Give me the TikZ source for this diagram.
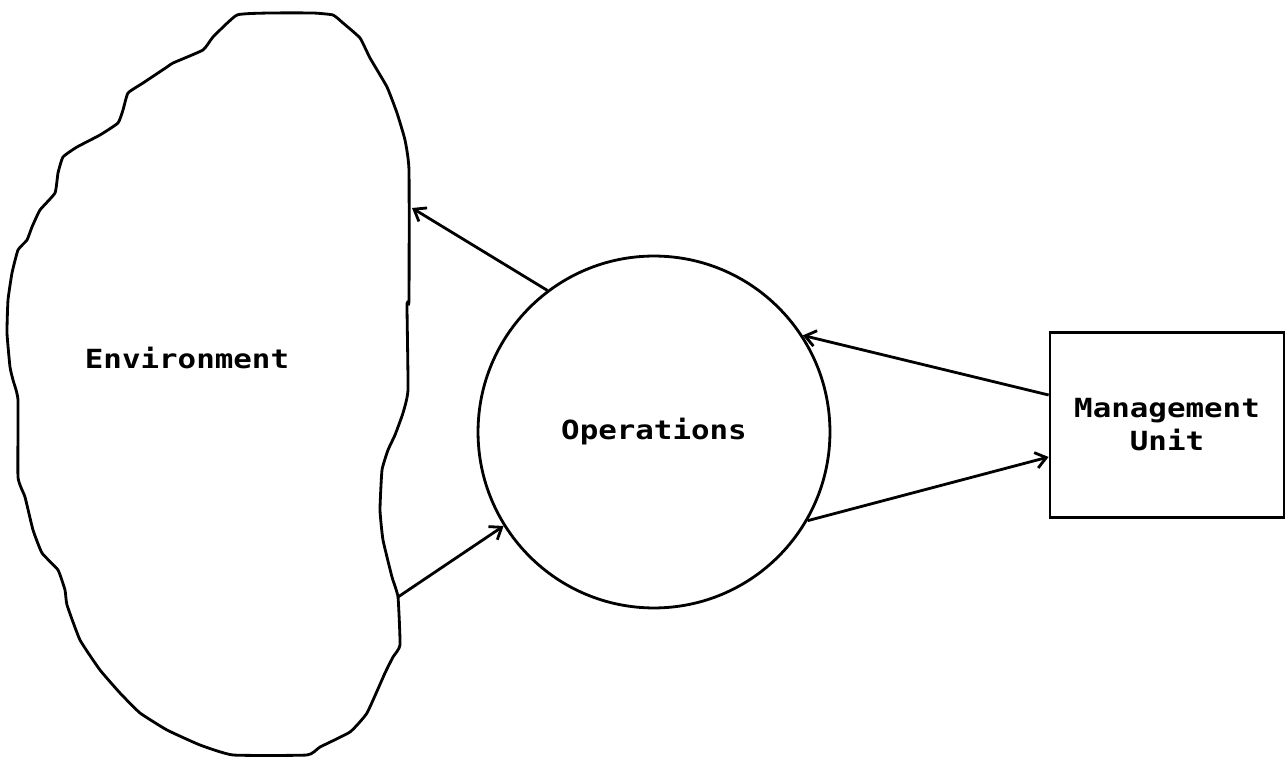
\documentclass[tikz,border=0pt]{standalone}
\usepackage{fontspec}
\newfontfamily\plotfont[FakeStretch=1.17]{DejaVu Sans Mono}
\usepackage{tikz}
\usetikzlibrary{arrows.meta}
\usetikzlibrary{calc}

\begin{document}
\begin{tikzpicture}[x=0.02cm,y=-0.02cm,line width=1.6pt,
    flow/.style={-{Straight Barb[length=6pt,width=9pt]}},
    lbl/.style={font=\plotfont\bfseries\fontsize{15}{18.7}\selectfont}]
\useasboundingbox (0,0) rectangle (1288,759);
% the environment blob
\draw plot[smooth cycle,tension=0.25] coordinates {
  (237,15) (270,13) (313,13) (333,15) (343,23) (360,38) (370,58) (387,87)
  (397,113) (405,140) (409,170) (409,300) (407,305) (408,390) (403,413)
  (395,435) (388,450) (382,470) (380,510) (383,540) (392,577) (398,597)
  (400,645) (393,657) (385,673) (367,713) (350,732) (320,747) (307,755)
  (233,755) (200,745) (167,730) (140,713) (120,693) (100,670) (80,640)
  (67,605) (65,590) (58,570) (42,553) (33,530) (25,497) (18,477) (18,400)
  (13,380) (10,367) (7,333) (8,300) (12,273) (18,250) (27,240) (32,227)
  (40,210) (55,193) (58,173) (63,157) (77,147) (100,135) (118,123)
  (123,110) (128,93) (143,83) (167,67) (173,63) (203,50) (213,37)};
\node[lbl] (env) at (187,358) {Environment};
\coordinate (envin) at (412,208);
\coordinate (envout) at (398,597);

\node[lbl,draw,circle,minimum size=7.04cm,inner sep=0pt] (ops) at (654,432) {Operations};
\node[lbl,draw,rectangle,minimum width=4.68cm,minimum height=3.7cm,align=center] (mgmt) at (1167,425) {Management\\Unit};

\draw[flow] (ops.127.6) -- (envin);
\draw[flow] (envout) -- (ops.212.8);
\draw[flow] ([yshift=0.6cm]mgmt.west) -- (ops.33.2);
\draw[flow] (ops.-30.5) -- ([yshift=-0.64cm]mgmt.west);
\end{tikzpicture}
\end{document}
